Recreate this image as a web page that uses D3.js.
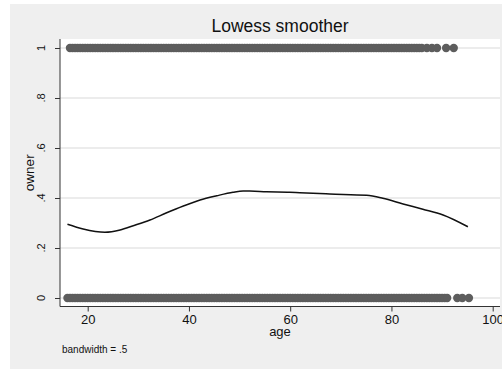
<!DOCTYPE html>
<html>
<head>
<meta charset="utf-8">
<script src="https://cdn.jsdelivr.net/npm/d3@7"></script>
<style>
  body { margin: 0; background: #fff; }
  text { font-family: "Liberation Sans", Arial, sans-serif; }
</style>
</head>
<body>
<svg id="chart" width="502" height="369"></svg>
<script>
// --- data ---
// ages of owners (owner = 1)
const ownerAges = [16.5, 17, 17.5, 18, 18.5, 19, 19.5, 20, 20.5, 21, 21.5, 22, 22.5, 23, 23.5, 24, 24.5,
  25, 25.5, 26, 26.5, 27, 27.5, 28, 28.5, 29, 29.5, 30, 30.5, 31, 31.5, 32, 32.5, 33, 33.5, 34, 34.5,
  35, 35.5, 36, 36.5, 37, 37.5, 38, 38.5, 39, 39.5, 40, 40.5, 41, 41.5, 42, 42.5, 43, 43.5, 44, 44.5,
  45, 45.5, 46, 46.5, 47, 47.5, 48, 48.5, 49, 49.5, 50, 50.5, 51, 51.5, 52, 52.5, 53, 53.5, 54, 54.5,
  55, 55.5, 56, 56.5, 57, 57.5, 58, 58.5, 59, 59.5, 60, 60.5, 61, 61.5, 62, 62.5, 63, 63.5, 64, 64.5,
  65, 65.5, 66, 66.5, 67, 67.5, 68, 68.5, 69, 69.5, 70, 70.5, 71, 71.5, 72, 72.5, 73, 73.5, 74, 74.5,
  75, 75.5, 76, 76.5, 77, 77.5, 78, 78.5, 79, 79.5, 80, 80.5, 81, 81.5, 82, 82.5, 83, 83.5, 84, 84.5,
  85, 85.5, 86, 87, 88, 89, 90.8, 92.3];
// ages of non-owners (owner = 0)
const nonOwnerAges = [16, 16.5, 17, 17.5, 18, 18.5, 19, 19.5, 20, 20.5, 21, 21.5, 22, 22.5, 23, 23.5, 24,
  24.5, 25, 25.5, 26, 26.5, 27, 27.5, 28, 28.5, 29, 29.5, 30, 30.5, 31, 31.5, 32, 32.5, 33, 33.5, 34,
  34.5, 35, 35.5, 36, 36.5, 37, 37.5, 38, 38.5, 39, 39.5, 40, 40.5, 41, 41.5, 42, 42.5, 43, 43.5, 44,
  44.5, 45, 45.5, 46, 46.5, 47, 47.5, 48, 48.5, 49, 49.5, 50, 50.5, 51, 51.5, 52, 52.5, 53, 53.5, 54,
  54.5, 55, 55.5, 56, 56.5, 57, 57.5, 58, 58.5, 59, 59.5, 60, 60.5, 61, 61.5, 62, 62.5, 63, 63.5, 64,
  64.5, 65, 65.5, 66, 66.5, 67, 67.5, 68, 68.5, 69, 69.5, 70, 70.5, 71, 71.5, 72, 72.5, 73, 73.5, 74,
  74.5, 75, 75.5, 76, 76.5, 77, 77.5, 78, 78.5, 79, 79.5, 80, 80.5, 81, 81.5, 82, 82.5, 83, 83.5, 84,
  84.5, 85, 85.5, 86, 86.5, 87, 87.5, 88, 88.5, 89, 89.5, 90, 90.5, 91, 93, 94, 95.3];
// lowess fit
const fitAge = [16, 19.1, 23.4, 26.4, 29, 32.3, 35.6, 38.9, 42.2, 45.5, 48.7, 50.7, 52, 55.3, 59.9,
  61.9, 67.8, 75.1, 78.3, 82.3, 86.2, 90.2, 95.1];
const fitVal = [0.295, 0.276, 0.263, 0.272, 0.289, 0.312, 0.341, 0.368, 0.392, 0.409, 0.423, 0.428,
  0.428, 0.425, 0.423, 0.421, 0.416, 0.411, 0.399, 0.376, 0.355, 0.332, 0.285];

const xTicks = [20, 40, 60, 80, 100];
const yTicks = [0, 0.2, 0.4, 0.6, 0.8, 1];
const yTickLabels = ["0", ".2", ".4", ".6", ".8", "1"];

const svg = d3.select("#chart");
const W = 502, H = 369;

// outer gray graph region
svg.append("rect").attr("x", 10).attr("y", 4).attr("width", W - 10).attr("height", H - 4).attr("fill", "#efefef");

// plot region
const pLeft = 60, pRight = 500, pTop = 39, pBottom = 306.5;
svg.append("rect").attr("x", pLeft).attr("y", pTop).attr("width", pRight - pLeft).attr("height", pBottom - pTop).attr("fill", "#fff");

const x = d3.scaleLinear().domain([20, 100]).range([87.7, 492.7]);
const y = d3.scaleLinear().domain([0, 1]).range([298, 48]);

// gridlines
svg.append("g").selectAll("line").data(yTicks).join("line")
  .attr("x1", pLeft).attr("x2", pRight)
  .attr("y1", d => y(d)).attr("y2", d => y(d))
  .attr("stroke", "#e6e6e6").attr("stroke-width", 1.3);

// scatter points
const pts = ownerAges.map(a => [a, 1]).concat(nonOwnerAges.map(a => [a, 0]));
svg.append("g").selectAll("circle").data(pts).join("circle")
  .attr("cx", d => x(d[0])).attr("cy", d => y(d[1]))
  .attr("r", 4.2).attr("fill", "#5d5d5d");

// lowess line
const line = d3.line().x(d => x(d[0])).y(d => y(d[1])).curve(d3.curveMonotoneX);
svg.append("path")
  .datum(fitAge.map((a, i) => [a, fitVal[i]]))
  .attr("d", line).attr("fill", "none").attr("stroke", "#111").attr("stroke-width", 1.5);

// axes
const xAxis = d3.axisBottom(x).tickValues(xTicks).tickSize(5).tickPadding(3);
const gx = svg.append("g").attr("transform", `translate(0,${pBottom})`).call(xAxis);
gx.select(".domain").attr("d", `M${pLeft},0H${pRight}`).attr("stroke", "#333");
gx.selectAll(".tick line").attr("stroke", "#333");
gx.selectAll(".tick text").attr("font-size", 13).attr("font-family", "Liberation Sans, Arial, sans-serif").attr("fill", "#111");

const yAxis = d3.axisLeft(y).tickValues(yTicks).tickSize(5).tickFormat("");
const gy = svg.append("g").attr("transform", `translate(${pLeft},0)`).call(yAxis);
gy.select(".domain").attr("d", `M0,${pTop}V${pBottom}`).attr("stroke", "#333");
gy.selectAll(".tick line").attr("stroke", "#333");
gy.selectAll(".tick text").remove();

// rotated y tick labels
svg.append("g").selectAll("text").data(yTicks).join("text")
  .attr("transform", d => `translate(45,${y(d)}) rotate(-90)`)
  .attr("text-anchor", "middle").attr("font-size", 11).attr("fill", "#111")
  .text((d, i) => yTickLabels[i]);

// titles
svg.append("text").attr("x", (pLeft + pRight) / 2).attr("y", 31.7)
  .attr("text-anchor", "middle").attr("font-size", 17.5).attr("fill", "#111").text("Lowess smoother");
svg.append("text").attr("x", (pLeft + pRight) / 2).attr("y", 336)
  .attr("text-anchor", "middle").attr("font-size", 13).attr("fill", "#111").text("age");
svg.append("text").attr("transform", `translate(34,${(pTop + pBottom) / 2}) rotate(-90)`)
  .attr("text-anchor", "middle").attr("font-size", 13.5).attr("fill", "#111").text("owner");
svg.append("text").attr("x", 62).attr("y", 352.5)
  .attr("font-size", 10).attr("fill", "#111").text("bandwidth = .5");
</script>
</body>
</html>
